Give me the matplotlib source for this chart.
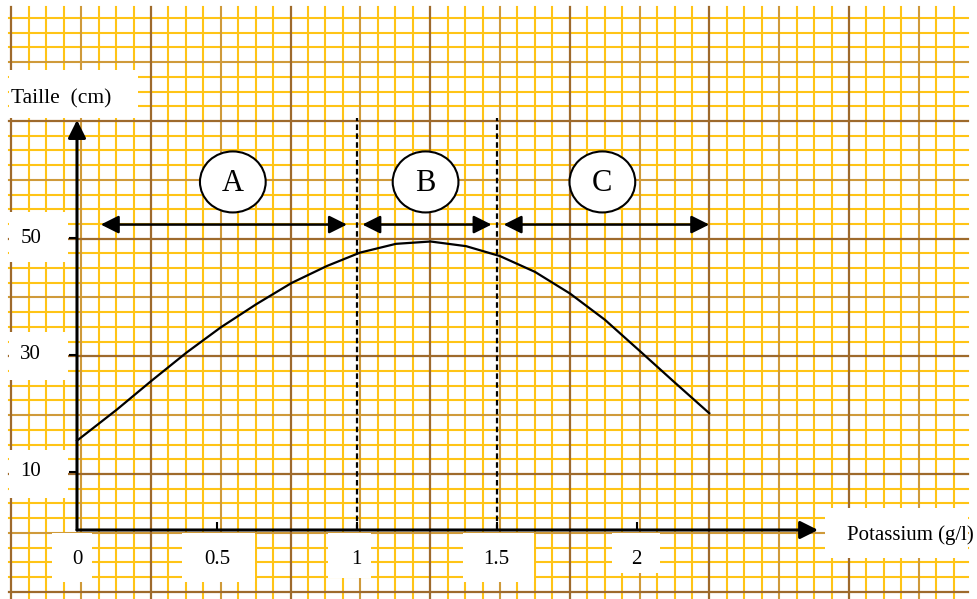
import matplotlib.pyplot as plt
from matplotlib.patches import Rectangle, Ellipse

# valeurs
potassium = [0, 0.142, 0.265, 0.392, 0.514, 0.642, 0.767, 0.893, 1.012, 1.14,
             1.264, 1.391, 1.512, 1.637, 1.762, 1.887, 2.013, 2.138, 2.26]
taille = [15.3, 20.6, 25.5, 30.4, 34.7, 38.7, 42.3, 45.2, 47.5, 49.0,
          49.4, 48.6, 46.9, 44.2, 40.5, 36.0, 30.6, 25.2, 20.0]

x_ticks = [0, 0.5, 1, 1.5, 2]
x_labels = ["0", "0.5", "1", "1.5", "2"]
y_ticks = [10, 30, 50]
y_labels = ["10", "30", "50"]

zones = ["A", "B", "C"]
zone_debut = [0.085, 1.02, 1.525]
zone_fin = [0.965, 1.482, 2.26]
zone_milieu = [0.557, 1.246, 1.878]
limites = [1, 1.5]

W, H = 978, 599
fig = plt.figure(figsize=(W / 100, H / 100), dpi=100)

# papier millimétré (en pixels)
bg = fig.add_axes([0, 0, 1, 1])
bg.set_xlim(0, W)
bg.set_ylim(H, 0)
bg.axis("off")

minor_c, mid_c, major_c = "#FFC416", "#CF9A3A", "#9E6A2C"
for n in range(55):
    x = 11.4 + 17.45 * n
    if n % 8 == 0:
        c, lw, z = major_c, 1.6, 3
    elif n % 4 == 0:
        c, lw, z = mid_c, 1.5, 2
    else:
        c, lw, z = minor_c, 1.5, 1
    bg.plot([x, x], [7, H], color=c, lw=lw, zorder=z)
for m in range(40):
    y = 18 + 14.71 * m
    if (m - 7) % 8 == 0:
        c, lw, z = major_c, 1.6, 3
    elif (m - 7) % 4 == 0:
        c, lw, z = mid_c, 1.5, 2
    else:
        c, lw, z = minor_c, 1.5, 1
    bg.plot([9, 968], [y, y], color=c, lw=lw, zorder=z)

# cases blanches derrière les textes
cases = [(9, 70, 138, 118), (9, 212, 68, 262), (9, 332, 68, 380), (9, 450, 68, 498),
         (52, 533, 92, 582), (182, 533, 255, 582), (328, 533, 371, 578),
         (463, 533, 534, 582), (612, 533, 660, 573), (825, 508, 968, 558)]
for x0, y0, x1, y1 in cases:
    bg.add_patch(Rectangle((x0, y0), x1 - x0, y1 - y0, facecolor="white",
                           edgecolor="none", zorder=5))

# repère en unités du graphique
ax = fig.add_axes([0, 0, 1, 1], zorder=2)
ax.patch.set_alpha(0)
ax.set_xlim(-77 / 279.75, (W - 77) / 279.75)
ax.set_ylim(-(H - 530) / 5.84, 530 / 5.84)
ax.axis("off")

fleche = dict(arrowstyle="-|>,head_length=0.6,head_width=0.3", color="k",
              lw=2.2, mutation_scale=18, shrinkA=0, shrinkB=0)
ax.annotate("", xy=(0, 70.2), xytext=(0, 0), arrowprops=fleche)
ax.annotate("", xy=(2.649, 0), xytext=(0, 0), arrowprops=fleche)

ax.plot([0] * len(y_ticks), y_ticks, ls="none", marker=0, ms=6, mew=1.5, color="k")
ax.plot(x_ticks[1:], [0] * (len(x_ticks) - 1), ls="none", marker=2, ms=6, mew=1.5, color="k")

police = "Liberation Serif"
for xv, lab in zip(x_ticks, x_labels):
    ax.text(xv, -5, lab, ha="center", va="center", fontsize=15, family=police)
for yv, lab in zip(y_ticks, y_labels):
    ax.text(-0.165, yv, lab, ha="center", va="center", fontsize=15, family=police)
ax.text(-0.057, 73.8, "Taille  (cm)", ha="center", va="center", fontsize=15.5, family=police)
ax.text(2.978, -0.86, "Potassium (g/l)", ha="center", va="center", fontsize=15, family=police)

for xv in limites:
    ax.plot([xv, xv], [0, 70.5], color="k", lw=1.6, ls=(0, (2.5, 1.5)))

ax.plot(potassium, taille, color="k", lw=1.6, solid_joinstyle="round")

double = dict(arrowstyle="<|-|>,head_length=0.6,head_width=0.3", color="k",
              lw=1.8, mutation_scale=18, shrinkA=0, shrinkB=0)
for nom, d, f, c in zip(zones, zone_debut, zone_fin, zone_milieu):
    ax.annotate("", xy=(f, 52.3), xytext=(d, 52.3), arrowprops=double)
    ax.add_patch(Ellipse((c, 59.6), 0.235, 10.45, facecolor="white",
                         edgecolor="k", lw=1.5, zorder=4))
    ax.text(c, 59.3, nom, ha="center", va="center", fontsize=22, family=police, zorder=5)

fig.savefig("out.png", dpi=100)
